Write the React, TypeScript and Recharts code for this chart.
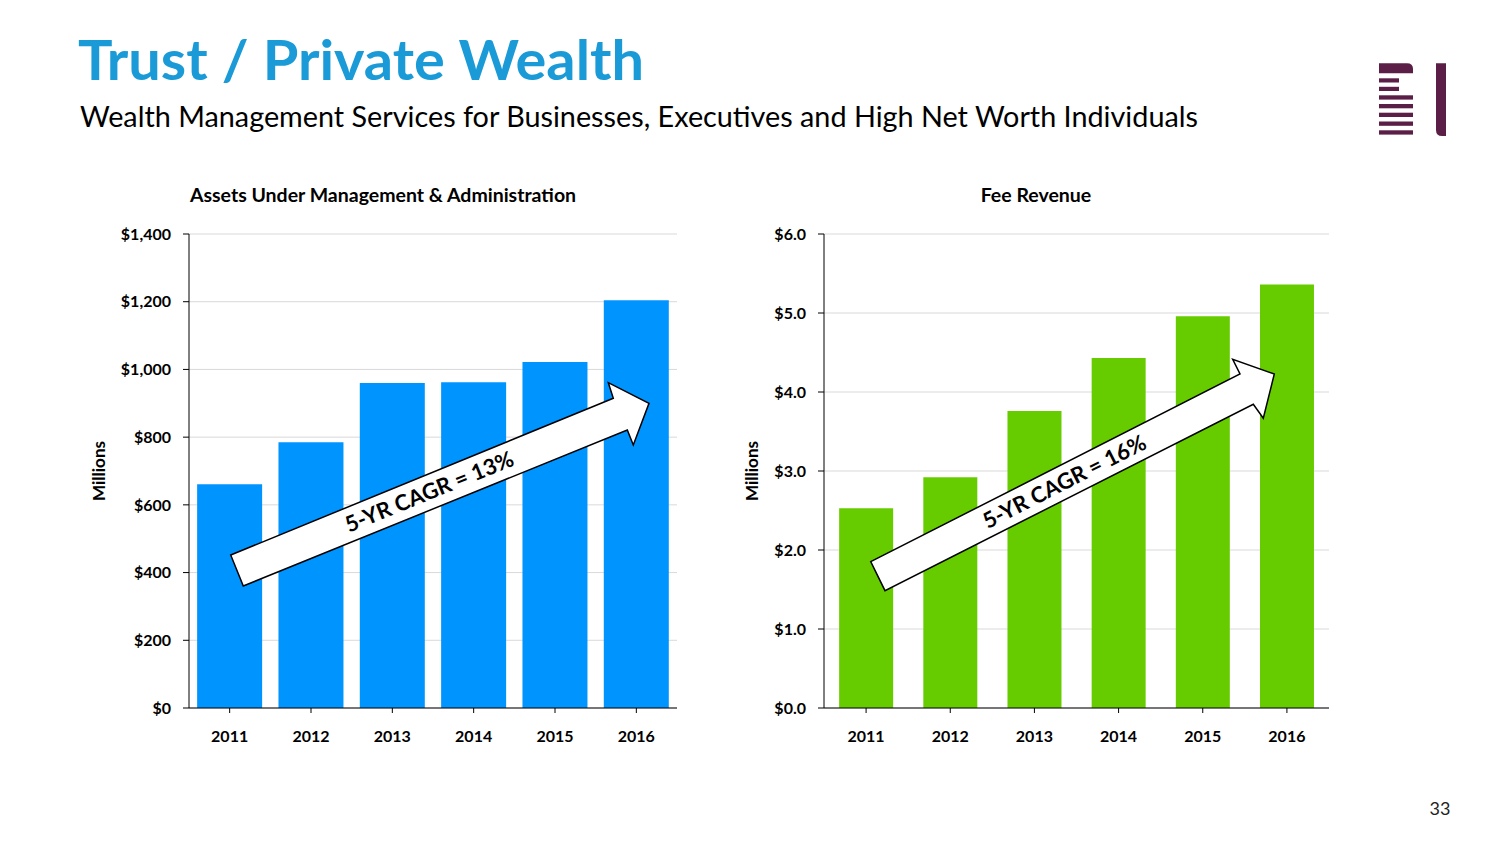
import { BarChart, Bar, XAxis, YAxis, CartesianGrid } from "recharts";

const years = ["2011", "2012", "2013", "2014", "2015", "2016"];
const aumValues = [661, 785, 960, 962, 1022, 1204];
const feeValues = [2.53, 2.92, 3.76, 4.43, 4.96, 5.36];
const aumTicks = [0, 200, 400, 600, 800, 1000, 1200, 1400];
const feeTicks = [0, 1, 2, 3, 4, 5, 6];

const aumData = years.map((year, i) => ({ year, value: aumValues[i] }));
const feeData = years.map((year, i) => ({ year, value: feeValues[i] }));

const font = "Lato, 'Open Sans', sans-serif";
const tickStyle = { fill: "#000", fontSize: 16, fontWeight: 700, fontFamily: font };
const labelStyle = { textAnchor: "middle", fill: "#000", fontSize: 17, fontWeight: 700, fontFamily: font };

export default function App() {
  return (
    <div style={{ position: "absolute", left: 0, top: 0, width: 1504, height: 846, background: "#fff" }}>
      <div style={{ position: "absolute", left: 80, top: 180 }}>
        <BarChart
          width={610}
          height={590}
          data={aumData}
          margin={{ top: 54, right: 13, bottom: 22, left: 0 }}
          barCategoryGap="10%"
        >
          <CartesianGrid vertical={false} stroke="#d9d9d9" />
          <XAxis
            dataKey="year"
            height={40}
            tick={tickStyle}
            tickSize={5}
            tickMargin={18}
            axisLine={{ stroke: "#000" }}
            tickLine={{ stroke: "#000" }}
          />
          <YAxis
            width={109}
            domain={[0, 1400]}
            ticks={aumTicks}
            tickFormatter={(v) => "$" + v.toLocaleString("en-US")}
            tick={tickStyle}
            tickSize={6}
            tickMargin={12}
            axisLine={{ stroke: "#000" }}
            tickLine={{ stroke: "#000" }}
            label={{ value: "Millions", angle: -90, position: "insideLeft", offset: 19, style: labelStyle }}
          />
          <Bar dataKey="value" fill="#0094ff" isAnimationActive={false} />
        </BarChart>
      </div>

      <div style={{ position: "absolute", left: 735, top: 180 }}>
        <BarChart
          width={607}
          height={590}
          data={feeData}
          margin={{ top: 54, right: 13, bottom: 22, left: 0 }}
          barCategoryGap="18%"
        >
          <CartesianGrid vertical={false} stroke="#d9d9d9" />
          <XAxis
            dataKey="year"
            height={40}
            tick={tickStyle}
            tickSize={5}
            tickMargin={18}
            axisLine={{ stroke: "#000" }}
            tickLine={{ stroke: "#000" }}
          />
          <YAxis
            width={89}
            domain={[0, 6]}
            ticks={feeTicks}
            tickFormatter={(v) => "$" + v.toFixed(1)}
            tick={tickStyle}
            tickSize={6}
            tickMargin={12}
            axisLine={{ stroke: "#000" }}
            tickLine={{ stroke: "#000" }}
            label={{ value: "Millions", angle: -90, position: "insideLeft", offset: 17, style: labelStyle }}
          />
          <Bar dataKey="value" fill="#66cc00" isAnimationActive={false} />
        </BarChart>
      </div>

      {/* titles, arrows, logo */}
      <svg
        width={1504}
        height={846}
        style={{ position: "absolute", left: 0, top: 0, pointerEvents: "none" }}
        fontFamily={font}
      >
        <text x={78} y={80} fontSize={56} fontWeight={700} fill="#1a9bd8" textLength={566} lengthAdjust="spacingAndGlyphs">
          Trust / Private Wealth
        </text>
        <text x={80} y={127} fontSize={29} fill="#000" textLength={1118} lengthAdjust="spacingAndGlyphs">
          Wealth Management Services for Businesses, Executives and High Net Worth Individuals
        </text>
        <text x={383} y={202} textAnchor="middle" fontSize={19.5} fontWeight={700} fill="#000">
          Assets Under Management &amp; Administration
        </text>
        <text x={1036} y={202} textAnchor="middle" fontSize={19.5} fontWeight={700} fill="#000">
          Fee Revenue
        </text>

        <polygon
          points="230.7,555 613.3,398.3 608.3,382.7 649,403.3 633.3,445 627.3,430 243.3,586"
          fill="#fff"
          stroke="#000"
          strokeWidth={1.5}
          strokeLinejoin="miter"
        />
        <text
          x={429}
          y={491}
          transform="rotate(-22.2 429 491)"
          textAnchor="middle"
          dominantBaseline="central"
          fontSize={22}
          fontWeight={700}
          fill="#000"
        >
          5-YR CAGR = 13%
        </text>

        <polygon
          points="870.7,561.7 1240,374 1232.7,359.3 1274.3,374 1263.3,418.3 1253.3,404.3 885,590.7"
          fill="#fff"
          stroke="#000"
          strokeWidth={1.5}
          strokeLinejoin="miter"
        />
        <text
          x={1064}
          y={481}
          transform="rotate(-26.9 1064 481)"
          textAnchor="middle"
          dominantBaseline="central"
          fontSize={22}
          fontWeight={700}
          fill="#000"
        >
          5-YR CAGR = 16%
        </text>

        <g fill="#5b1f47">
          <path d="M1379,63.3 H1407 Q1413,63.3 1413,69 V73.3 H1379 Z" />
          <rect x={1379} y={78.3} width={20} height={4.2} />
          <rect x={1379} y={86.8} width={20} height={4.2} />
          <rect x={1379} y={95.3} width={34} height={4.3} />
          <rect x={1379} y={104} width={34} height={4.3} />
          <rect x={1379} y={112.7} width={34} height={4.3} />
          <rect x={1379} y={121.5} width={34} height={4.3} />
          <rect x={1379} y={130.3} width={34} height={4.3} />
          <path d="M1436,63.3 H1446 V136 H1442 Q1436,136 1436,130 Z" />
        </g>

        <text x={1440} y={815} textAnchor="middle" fontSize={18} fill="#222">
          33
        </text>
      </svg>
    </div>
  );
}
